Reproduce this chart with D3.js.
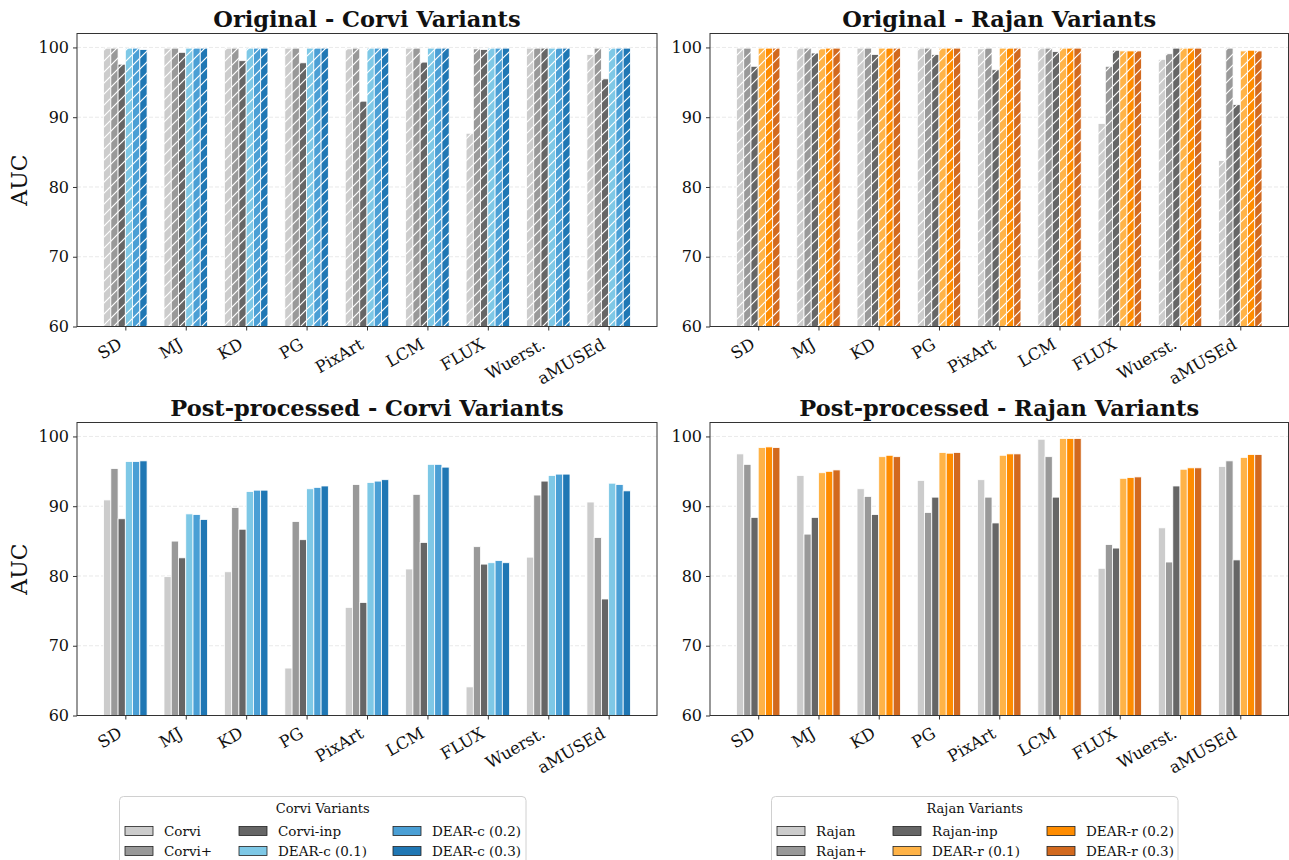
<!DOCTYPE html>
<html>
<head>
<meta charset="utf-8">
<script src="https://cdn.jsdelivr.net/npm/d3@7"></script>
<style>
  html, body { margin: 0; padding: 0; background: #fff; }
  svg { display: block; font-family: "DejaVu Serif", serif; }
</style>
</head>
<body>
<svg id="chart" width="1289" height="860"></svg>
<script>
// ---------------- DATA ----------------
const categories = ['SD', 'MJ', 'KD', 'PG', 'PixArt', 'LCM', 'FLUX', 'Wuerst.', 'aMUSEd'];
const corviSeries = ['Corvi', 'Corvi+', 'Corvi-inp', 'DEAR-c (0.1)', 'DEAR-c (0.2)', 'DEAR-c (0.3)'];
const rajanSeries = ['Rajan', 'Rajan+', 'Rajan-inp', 'DEAR-r (0.1)', 'DEAR-r (0.2)', 'DEAR-r (0.3)'];
const corviColors = ['#cccccc', '#999999', '#666666', '#7ec8e6', '#4a9fd5', '#1f77b4'];
const rajanColors = ['#cccccc', '#999999', '#666666', '#ffb347', '#ff8c00', '#d2691e'];
const yTicks = [60, 70, 80, 90, 100];

// Original - Corvi (one row per series, one value per category)
const origCorvi = [
  [99.9, 99.9, 99.9, 99.9, 99.8, 99.9, 87.7, 99.9, 99.0],
  [99.9, 99.9, 99.9, 99.9, 99.9, 99.9, 99.8, 99.9, 99.9],
  [97.6, 99.3, 98.1, 97.8, 92.3, 97.9, 99.7, 99.9, 95.5],
  [99.9, 99.9, 99.9, 99.9, 99.9, 99.9, 99.9, 99.9, 99.9],
  [99.9, 99.9, 99.9, 99.9, 99.9, 99.9, 99.9, 99.9, 99.9],
  [99.7, 99.9, 99.9, 99.9, 99.9, 99.9, 99.9, 99.9, 99.9]
];
// Original - Rajan
const origRajan = [
  [99.9, 99.9, 99.9, 99.9, 99.8, 99.9, 89.1, 98.3, 83.8],
  [99.9, 99.9, 99.9, 99.9, 99.9, 99.9, 97.3, 99.1, 99.9],
  [97.3, 99.2, 99.0, 99.0, 96.8, 99.4, 99.6, 99.9, 91.8],
  [99.9, 99.8, 99.9, 99.9, 99.9, 99.9, 99.5, 99.9, 99.5],
  [99.9, 99.9, 99.9, 99.9, 99.9, 99.9, 99.5, 99.9, 99.6],
  [99.9, 99.9, 99.9, 99.9, 99.9, 99.9, 99.5, 99.9, 99.5]
];
// Post-processed - Corvi
const ppCorvi = [
  [90.9, 79.9, 80.6, 66.8, 75.5, 81.0, 64.1, 82.7, 90.6],
  [95.4, 85.0, 89.8, 87.8, 93.1, 91.7, 84.2, 91.6, 85.5],
  [88.2, 82.6, 86.7, 85.2, 76.2, 84.8, 81.7, 93.6, 76.7],
  [96.4, 88.9, 92.1, 92.5, 93.4, 96.0, 81.9, 94.4, 93.3],
  [96.4, 88.8, 92.3, 92.7, 93.6, 96.0, 82.2, 94.6, 93.1],
  [96.5, 88.1, 92.3, 92.9, 93.8, 95.6, 81.9, 94.6, 92.2]
];
// Post-processed - Rajan
const ppRajan = [
  [97.5, 94.4, 92.5, 93.7, 93.8, 99.6, 81.1, 86.9, 95.7],
  [96.0, 86.0, 91.4, 89.1, 91.3, 97.1, 84.5, 82.0, 96.5],
  [88.4, 88.4, 88.8, 91.3, 87.6, 91.3, 84.0, 92.9, 82.3],
  [98.4, 94.8, 97.1, 97.7, 97.3, 99.7, 94.0, 95.3, 97.0],
  [98.5, 95.0, 97.3, 97.6, 97.5, 99.7, 94.1, 95.5, 97.4],
  [98.4, 95.2, 97.1, 97.7, 97.5, 99.7, 94.2, 95.5, 97.4]
];

// ---------------- LAYOUT ----------------
const svg = d3.select('#chart');
const svgNode = svg.node();
const barW = 0.12;

const defs = svg.append('defs');
const hatchSize = 11;
const hp = defs.append('pattern').attr('id', 'hatch')
  .attr('patternUnits', 'userSpaceOnUse')
  .attr('width', hatchSize).attr('height', hatchSize);
hp.append('path')
  .attr('d', `M0,${hatchSize} L${hatchSize},0 M${-hatchSize/2},${hatchSize/2} L${hatchSize/2},${-hatchSize/2} M${hatchSize/2},${hatchSize*1.5} L${hatchSize*1.5},${hatchSize/2}`)
  .attr('stroke', '#ffffff').attr('stroke-width', 1.2).attr('fill', 'none');

const panels = [
  {title: 'Original - Corvi Variants', data: origCorvi, colors: corviColors, x0: 77, x1: 657, y0: 33.5, y1: 326.5, hatch: true, ylabel: true},
  {title: 'Original - Rajan Variants', data: origRajan, colors: rajanColors, x0: 710, x1: 1288.5, y0: 33.5, y1: 326.5, hatch: true, ylabel: false},
  {title: 'Post-processed - Corvi Variants', data: ppCorvi, colors: corviColors, x0: 77, x1: 657, y0: 422.5, y1: 715.5, hatch: false, ylabel: true},
  {title: 'Post-processed - Rajan Variants', data: ppRajan, colors: rajanColors, x0: 710, x1: 1288.5, y0: 422.5, y1: 715.5, hatch: false, ylabel: false}
];

panels.forEach(p => {
  const x = d3.scaleLinear().domain([-0.8, 8.8]).range([p.x0, p.x1]);
  const y = d3.scaleLinear().domain([60, 102]).range([p.y1, p.y0]);
  const g = svg.append('g');

  // grid
  g.append('g').selectAll('line').data(yTicks).join('line')
    .attr('x1', p.x0).attr('x2', p.x1)
    .attr('y1', d => y(d)).attr('y2', d => y(d))
    .attr('stroke', '#b0b0b0').attr('stroke-opacity', 0.35)
    .attr('stroke-width', 0.8).attr('stroke-dasharray', '4,2');

  // bars
  p.data.forEach((vals, si) => {
    const sg = g.append('g');
    vals.forEach((v, ci) => {
      const xc = ci + (si - 2.5) * barW;
      const xl = x(xc - barW / 2), xr = x(xc + barW / 2);
      sg.append('rect')
        .attr('x', xl).attr('width', xr - xl)
        .attr('y', y(v)).attr('height', y(60) - y(v))
        .attr('fill', p.colors[si])
        .attr('stroke', '#ffffff').attr('stroke-width', 0.8);
      if (p.hatch) {
        sg.append('rect')
          .attr('x', xl).attr('width', xr - xl)
          .attr('y', y(v)).attr('height', y(60) - y(v))
          .attr('fill', 'url(#hatch)');
      }
    });
  });

  // frame
  g.append('rect').attr('x', p.x0).attr('y', p.y0)
    .attr('width', p.x1 - p.x0).attr('height', p.y1 - p.y0)
    .attr('fill', 'none').attr('stroke', '#333').attr('stroke-width', 1);

  // y axis
  const yAxis = d3.axisLeft(y).tickValues(yTicks).tickSize(4).tickPadding(4);
  const ya = g.append('g').attr('transform', `translate(${p.x0},0)`).call(yAxis);
  ya.select('.domain').remove();
  ya.selectAll('line').attr('stroke', '#333');
  ya.selectAll('text').attr('font-family', 'DejaVu Serif').attr('font-size', 16).attr('fill', '#111');

  // x axis
  const xAxis = d3.axisBottom(x).tickValues(d3.range(categories.length)).tickSize(4).tickFormat(() => '');
  const xa = g.append('g').attr('transform', `translate(0,${p.y1})`).call(xAxis);
  xa.select('.domain').remove();
  xa.selectAll('line').attr('stroke', '#333');

  // rotated tick labels (matplotlib style: rotation 30, ha right)
  const svgRect = svgNode.getBoundingClientRect();
  categories.forEach((c, i) => {
    const outer = g.append('g');
    const inner = outer.append('g').attr('transform', 'rotate(-30)');
    inner.append('text').text(c).attr('text-anchor', 'end')
      .attr('font-family', 'DejaVu Serif').attr('font-size', 16.5).attr('fill', '#111');
    const r = inner.node().getBoundingClientRect();
    const tx = x(i) - (r.right - svgRect.left);
    const ty = p.y1 + 8 - (r.top - svgRect.top);
    outer.attr('transform', `translate(${tx},${ty})`);
  });

  // title
  g.append('text').attr('x', (p.x0 + p.x1) / 2).attr('y', p.y0 - 6.5)
    .attr('text-anchor', 'middle').attr('font-family', 'DejaVu Serif')
    .attr('font-weight', 'bold').attr('font-size', 22.5).attr('fill', '#111')
    .text(p.title);

  if (p.ylabel) {
    g.append('text')
      .attr('transform', `translate(27,${(p.y0 + p.y1) / 2}) rotate(-90)`)
      .attr('text-anchor', 'middle').attr('font-family', 'DejaVu Serif')
      .attr('font-size', 22).attr('fill', '#111').text('AUC');
  }
});

// ---------------- LEGENDS ----------------
function legend(x0, x1, title, names, colors, colX) {
  const g = svg.append('g');
  g.append('rect').attr('x', x0).attr('y', 796.5).attr('width', x1 - x0).attr('height', 80)
    .attr('rx', 4).attr('fill', '#fff').attr('fill-opacity', 0.8)
    .attr('stroke', '#d0d0d0').attr('stroke-width', 1);
  g.append('text').attr('x', (x0 + x1) / 2).attr('y', 813)
    .attr('text-anchor', 'middle').attr('font-size', 13).attr('fill', '#111').text(title);
  names.forEach((n, i) => {
    const col = Math.floor(i / 2), row = i % 2;
    const px = colX[col], py = 826.5 + row * 20;
    g.append('rect').attr('x', px).attr('y', py).attr('width', 28).attr('height', 9)
      .attr('fill', colors[i]).attr('stroke', '#222').attr('stroke-width', 0.8);
    g.append('text').attr('x', px + 39).attr('y', py + 9.5)
      .attr('font-size', 13.5).attr('fill', '#111').text(n);
  });
}
legend(119.5, 526, 'Corvi Variants', corviSeries, corviColors, [125, 239, 393]);
legend(771.5, 1178, 'Rajan Variants', rajanSeries, rajanColors, [777, 893, 1047]);
</script>
</body>
</html>
